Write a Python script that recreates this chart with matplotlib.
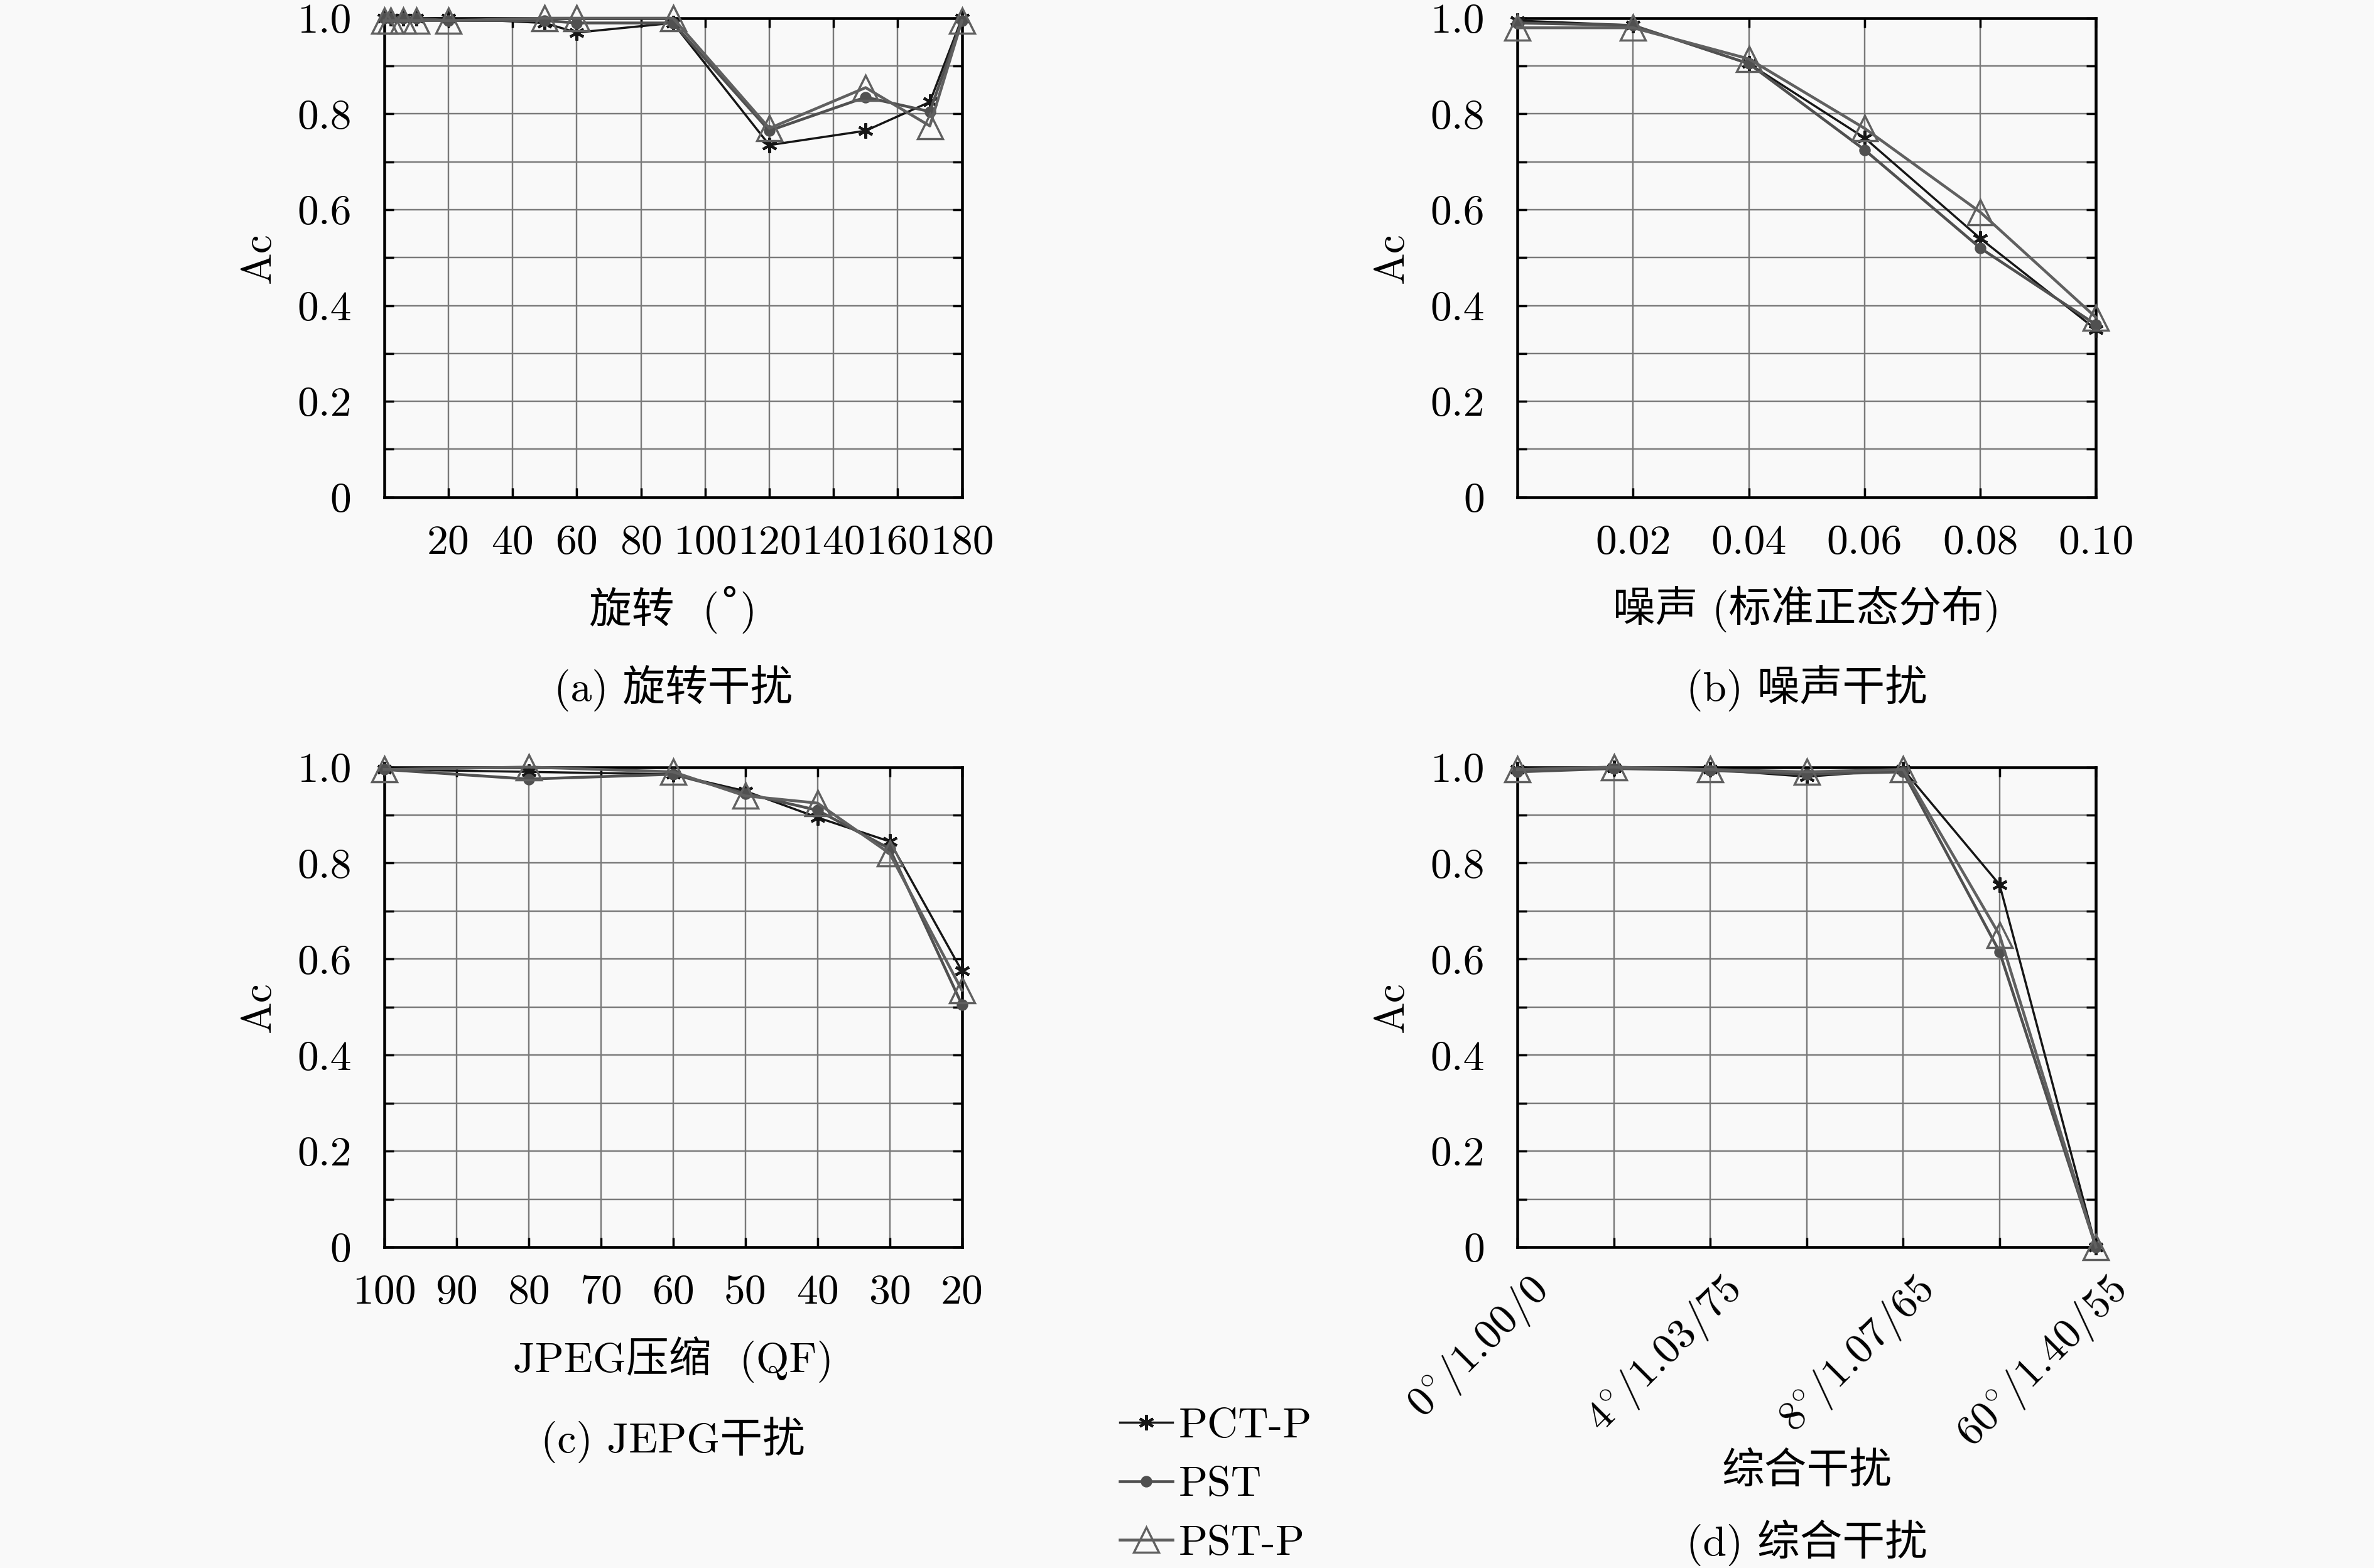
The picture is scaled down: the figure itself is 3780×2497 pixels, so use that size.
import matplotlib
matplotlib.use("Agg")
import matplotlib.pyplot as plt
from matplotlib.transforms import ScaledTranslation
import numpy as np

plt.rcParams['font.family'] = ['cmr10', 'Noto Sans CJK SC', 'DejaVu Sans']
plt.rcParams['mathtext.fontset'] = 'cm'
plt.rcParams['axes.unicode_minus'] = False
plt.rcParams['font.size'] = 19.5

# ---------------- data ----------------
series_names = ["PCT-P", "PST", "PST-P"]

rot_x = [0, 2, 6, 10, 20, 50, 60, 90, 120, 150, 170, 180]
rot_pctp = [1.0, 1.0, 1.0, 1.0, 1.0, 0.99, 0.97, 0.99, 0.735, 0.765, 0.825, 1.0]
rot_pst = [1.0, 1.0, 1.0, 1.0, 0.995, 0.995, 0.99, 0.99, 0.765, 0.835, 0.805, 0.995]
rot_pstp = [0.995, 0.995, 0.995, 0.995, 0.995, 1.0, 1.0, 1.0, 0.77, 0.855, 0.775, 0.995]

noise_x = [0.0, 0.02, 0.04, 0.06, 0.08, 0.10]
noise_pctp = [0.995, 0.985, 0.905, 0.75, 0.54, 0.35]
noise_pst = [0.99, 0.985, 0.905, 0.725, 0.52, 0.36]
noise_pstp = [0.98, 0.98, 0.915, 0.77, 0.595, 0.375]

jpeg_x = [100, 80, 60, 50, 40, 30, 20]
jpeg_pctp = [0.995, 0.99, 0.985, 0.95, 0.895, 0.845, 0.575]
jpeg_pst = [0.995, 0.975, 0.985, 0.945, 0.91, 0.83, 0.505]
jpeg_pstp = [0.995, 1.0, 0.99, 0.94, 0.925, 0.82, 0.535]

comb_x = [0, 1, 2, 3, 4, 5, 6]
comb_labels = [r"$0^{\circ}$/1.00/0", "", r"$4^{\circ}$/1.03/75", "",
               r"$8^{\circ}$/1.07/65", "", r"$60^{\circ}$/1.40/55"]
comb_pctp = [0.995, 0.998, 0.995, 0.98, 0.995, 0.755, 0.0]
comb_pst = [0.99, 0.997, 0.993, 0.985, 0.99, 0.615, 0.0]
comb_pstp = [0.995, 1.0, 0.995, 0.99, 0.995, 0.65, 0.0]

rot_ticks = [20, 40, 60, 80, 100, 120, 140, 160, 180]
noise_ticks = [0.02, 0.04, 0.06, 0.08, 0.10]
noise_ticklabels = ["0.02", "0.04", "0.06", "0.08", "0.10"]
jpeg_ticks = [100, 90, 80, 70, 60, 50, 40, 30, 20]
y_ticks = [0.0, 0.1, 0.2, 0.3, 0.4, 0.5, 0.6, 0.7, 0.8, 0.9, 1.0]
y_ticklabels = ["0", "", "0.2", "", "0.4", "", "0.6", "", "0.8", "", "1.0"]

xlabels = ["旋转  (\u02DA)", "噪声 (标准正态分布)", "JPEG压缩  (QF)", "综合干扰"]
captions = ["(a) 旋转干扰", "(b) 噪声干扰", "(c) JEPG干扰", "(d) 综合干扰"]

# ---------------- styles ----------------
BG = '#f9f9f9'
styles = [
    dict(color='#161616', lw=1.0, marker=(6, 2, 0), ms=7, mew=1.2,
         mec='#161616', mfc='#161616'),
    dict(color='#505050', lw=1.3, marker='o', ms=4.5, mew=0.8,
         mec='#505050', mfc='#505050'),
    dict(color='#606060', lw=1.3, marker='^', ms=11.5, mew=1.0,
         mec='#606060', mfc='none'),
]

fig = plt.figure(figsize=(15.12, 9.988), dpi=250, facecolor=BG)

positions = [
    [0.1618, 0.6830, 0.2434, 0.3054],
    [0.6392, 0.6830, 0.2437, 0.3054],
    [0.1618, 0.2046, 0.2434, 0.3062],
    [0.6392, 0.2046, 0.2437, 0.3062],
]

axes = [fig.add_axes(p) for p in positions]

datasets = [
    (rot_x, [rot_pctp, rot_pst, rot_pstp]),
    (noise_x, [noise_pctp, noise_pst, noise_pstp]),
    (jpeg_x, [jpeg_pctp, jpeg_pst, jpeg_pstp]),
    (comb_x, [comb_pctp, comb_pst, comb_pstp]),
]

handles = []
for i, ax in enumerate(axes):
    ax.set_facecolor(BG)
    xs, ys = datasets[i]
    for j, yv in enumerate(ys):
        st = styles[j]
        h, = ax.plot(xs, yv, color=st['color'], lw=st['lw'], marker=st['marker'],
                     markersize=st['ms'], markeredgewidth=st['mew'],
                     markeredgecolor=st['mec'], markerfacecolor=st['mfc'],
                     clip_on=False, zorder=3 + j, label=series_names[j])
        if i == 0:
            handles.append(h)
    ax.set_ylim(0, 1.0)
    ax.set_yticks(y_ticks)
    ax.set_yticklabels(y_ticklabels)
    ax.grid(True, color='#7a7a7a', lw=0.7)
    ax.set_axisbelow(True)
    for s in ax.spines.values():
        s.set_linewidth(1.3)
        s.set_color('black')
    ax.tick_params(direction='in', top=True, right=True, length=4.3, width=1.0,
                   labelsize=19.5)
    ax.tick_params(axis='x', pad=12.5)
    ax.tick_params(axis='y', pad=15)
    ax.set_ylabel("Ac", fontsize=19.5)
    ax.yaxis.label.set_va('center')
    ax.yaxis.set_label_coords(-0.216, 0.5)

# panel a
axes[0].set_xlim(0, 180)
axes[0].set_xticks(rot_ticks)
axes[0].set_xticklabels([str(t) for t in rot_ticks])
# panel b
axes[1].set_xlim(0, 0.10)
axes[1].set_xticks(noise_ticks)
axes[1].set_xticklabels(noise_ticklabels)
# panel c
axes[2].set_xlim(100, 20)
axes[2].set_xticks(jpeg_ticks)
axes[2].set_xticklabels([str(t) for t in jpeg_ticks])
# panel d
axes[3].set_xlim(0, 6)
axes[3].set_xticks(comb_x)
axes[3].set_xticklabels(comb_labels, rotation=45, ha='right', va='center',
                        rotation_mode='anchor')
axes[3].tick_params(axis='x', pad=17)
off = ScaledTranslation(0.16, 0, fig.dpi_scale_trans)
for lab in axes[3].get_xticklabels():
    lab.set_transform(lab.get_transform() + off)

label_y = [-0.185, -0.185, -0.185, -0.427]
caption_y = [-0.399, -0.399, -0.402, -0.616]
for i, ax in enumerate(axes):
    ax.set_xlabel(xlabels[i], fontsize=19.5)
    ax.xaxis.set_label_coords(0.5, label_y[i])
    ax.text(0.5, caption_y[i], captions[i], transform=ax.transAxes,
            ha='center', va='center', fontsize=19.5)

fig.legend(handles=handles, labels=series_names, loc='upper left',
           bbox_to_anchor=(0.4717, 0.1024), frameon=False, borderpad=0,
           borderaxespad=0, handlelength=1.24, handletextpad=0.15,
           labelspacing=0.49, fontsize=19.5)

fig.savefig("out.png", dpi=250, facecolor=BG)
